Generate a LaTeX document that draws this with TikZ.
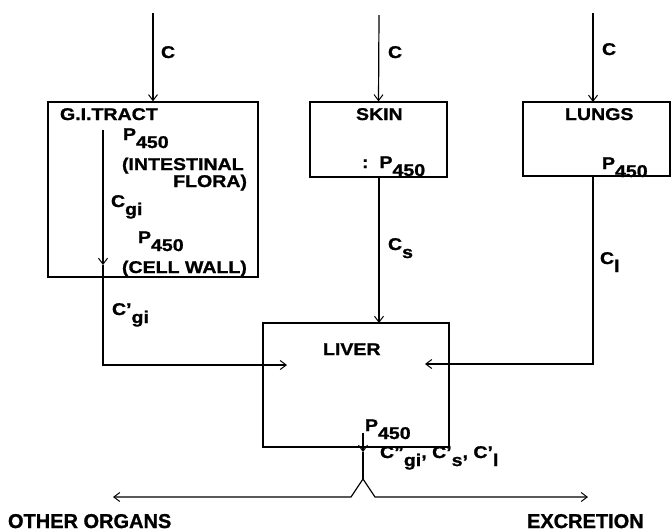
\documentclass[tikz,border=0pt]{standalone}
\usepackage{fontspec}
\setmainfont{Liberation Sans}[FakeStretch=1.15, BoldFeatures={FakeBold=1.2}]
\newfontfamily\plainsans{Liberation Sans}[BoldFeatures={FakeBold=1.2}]
\usetikzlibrary{arrows.meta}
\newcommand{\lsub}[1]{\raisebox{-8pt}{#1}}
\tikzset{
  organ/.style={draw, line width=1.2pt, rectangle, inner sep=0pt},
  lbl/.style={inner sep=0pt, outer sep=0pt, anchor=base west, font=\bfseries\fontsize{17}{20}\selectfont},
  lblr/.style={lbl, anchor=base east},
  biglbl/.style={inner sep=0pt, outer sep=0pt, anchor=base west, font=\plainsans\bfseries\fontsize{20}{24}\selectfont},
  flow/.style={line width=1.2pt},
  arr/.style={flow, -{Straight Barb[length=6pt,width=9pt,line width=1pt]}},
}
\begin{document}
\begin{tikzpicture}[x=1pt,y=-1pt]
\useasboundingbox (0,0) rectangle (671,531);
% boxes
\node[organ, minimum width=210pt, minimum height=175pt] (gi) at (153,189.5) {};
\node[organ, minimum width=137pt, minimum height=75pt] (skin) at (378.5,139.5) {};
\node[organ, minimum width=147pt, minimum height=74pt] (lungs) at (596.5,139) {};
\node[organ, minimum width=186pt, minimum height=124pt] (liver) at (356,385) {};
% coordinates
\coordinate (gin) at (153,13);
\coordinate (sin) at (379,15);
\coordinate (lin) at (593,13);
\coordinate (lintip) at (593,102);
\coordinate (sout) at (379,177);
\coordinate (stip) at (379,323);
\coordinate (gitop) at (103,130);
\coordinate (gimid) at (103,265);
\coordinate (gicorner) at (103,365);
\coordinate (gitip) at (287,365);
\coordinate (lout) at (593,176);
\coordinate (lcorner) at (593,364);
\coordinate (ltip) at (425,364);
\coordinate (vout) at (363,433);
\coordinate (vmid) at (363,452);
\coordinate (peak) at (363,479);
\coordinate (footl) at (351,497);
\coordinate (footr) at (375,497);
\coordinate (endl) at (113,497);
\coordinate (endr) at (588,497);
% connectors
\draw[arr] (gin) -- (gi.north);
\draw[arr] (sin) -- (skin.north);
\draw[arr] (lin) -- (lintip);
\draw[arr] (sout) -- (stip);
\draw[arr] (gitop) -- (gimid);
\draw[arr] (gimid) -- (gicorner) -- (gitip);
\draw[arr] (lout) -- (lcorner) -- (ltip);
\draw[arr] (vout) -- (vmid);
\draw[flow] (vmid) -- (peak);
\draw[arr] (peak) -- (footl) -- (endl);
\draw[arr] (peak) -- (footr) -- (endr);
% labels
\node[lbl] (c1) at (161,58) {C};
\node[lbl] (c2) at (388,58) {C};
\node[lbl] (c3) at (602,55) {C};
\node[lbl] (gitxt) at (60,120) {G.I.TRACT};
\node[lbl] (gip1) at (123,140) {P\lsub{450}};
\node[lbl] (intest) at (122,170) {(INTESTINAL};
\node[lblr] (flora) at (247,187) {FLORA)};
\node[lbl] (cgi) at (111,207) {C\lsub{gi}};
\node[lbl] (gip2) at (138,243) {P\lsub{450}};
\node[lbl] (cell) at (122,273) {(CELL WALL)};
\node[lbl] (cgip) at (112,315) {C'\lsub{gi}};
\node[lbl] (skintxt) at (356,120) {SKIN};
\node[lbl] (skinp) at (362,168) {:\hspace{11pt}P\lsub{450}};
\node[lbl] (lungtxt) at (565,120) {LUNGS};
\node[lbl] (lungp) at (602,169) {P\lsub{450}};
\node[lbl] (cs) at (388,250) {C\lsub{s}};
\node[lbl] (cl) at (600,264) {C\lsub{l}};
\node[lbl] (livtxt) at (323,355) {LIVER};
\node[lbl] (livp) at (365,431) {P\lsub{450}};
\node[lbl] (cout) at (380,458) {C''\lsub{gi}, C'\lsub{s}, C'\lsub{l}};
\node[biglbl] (other) at (8,528) {OTHER ORGANS};
\node[biglbl] (excr) at (527,528) {EXCRETION};
\end{tikzpicture}
\end{document}
